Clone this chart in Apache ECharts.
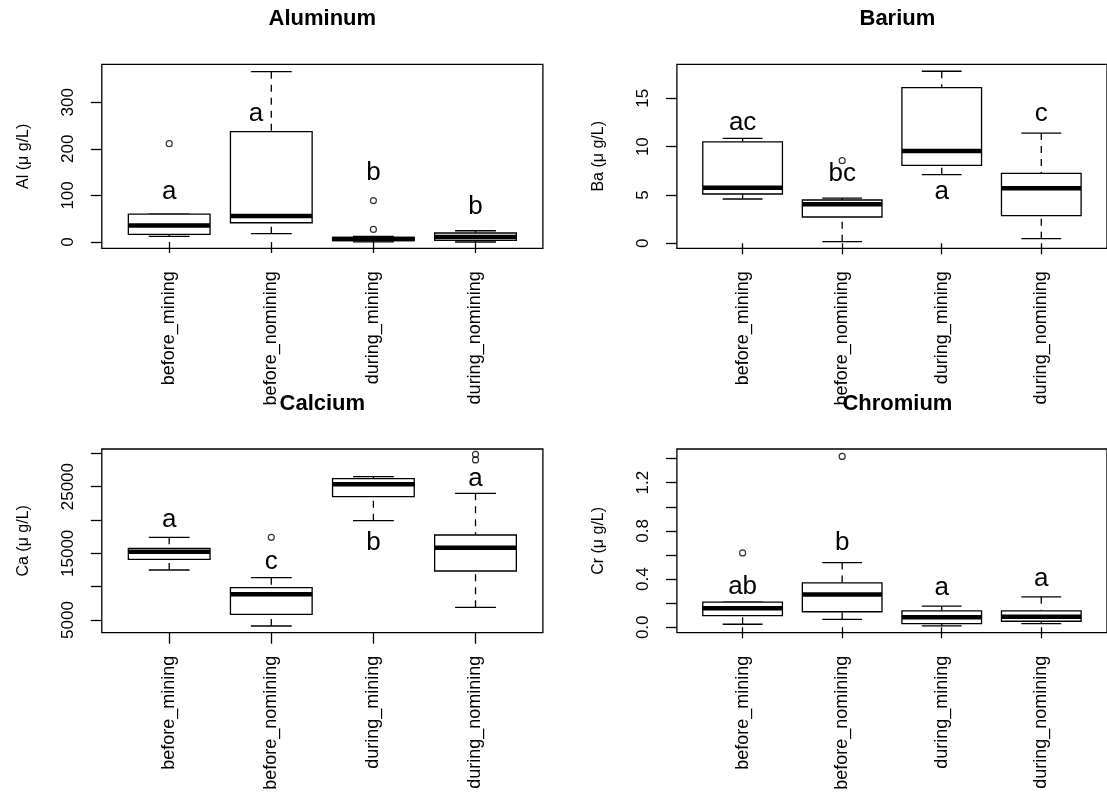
<!DOCTYPE html>
<html>
<head>
<meta charset="utf-8">
<script src="https://cdn.jsdelivr.net/npm/echarts@6/dist/echarts.min.js"></script>
<style>
  html, body { margin: 0; background: #fff; }
  #chart { width: 1107px; height: 793px; }
</style>
</head>
<body>
<div id="chart"></div>
<script>
const groups = ['before_mining', 'before_nomining', 'during_mining', 'during_nomining']

// per group: [lower whisker, Q1, median, Q3, upper whisker]
const alStats = [
  [12, 16.3, 35.6, 60, 60],
  [17.8, 41.4, 55.7, 237, 365.6],
  [0.3, 3, 6.5, 10, 12],
  [0, 3.4, 10.7, 19.3, 24.2]
]
const alOutliers = [[1, 211], [3, 89], [3, 27]]
const alLetters = ['a', 'a', 'b', 'b']
const alLetterX = [1, 1.85, 3, 4]
const alLetterY = [108, 275, 148, 76]

const baStats = [
  [4.58, 5.1, 5.75, 10.5, 10.86],
  [0.17, 2.72, 4.03, 4.48, 4.68],
  [7.1, 8.06, 9.55, 16.1, 17.8],
  [0.48, 2.86, 5.69, 7.24, 11.4]
]
const baOutliers = [[2, 8.55]]
const baLetters = ['ac', 'bc', 'a', 'c']
const baLetterX = [1, 2, 3, 4]
const baLetterY = [12.5, 7.2, 5.3, 13.4]

const caStats = [
  [12500, 14100, 15250, 15750, 17400],
  [4100, 5850, 8850, 9850, 11350],
  [19900, 23500, 25350, 26200, 26500],
  [6900, 12350, 15850, 17750, 24000]
]
const caOutliers = [[2, 17400], [4, 29850], [4, 29000]]
const caLetters = ['a', 'c', 'b', 'a']
const caLetterX = [1, 2, 3, 4]
const caLetterY = [20000, 13750, 16600, 26100]

const crStats = [
  [0.025, 0.096, 0.157, 0.209, 0.209],
  [0.066, 0.129, 0.273, 0.369, 0.537],
  [0.011, 0.03, 0.083, 0.137, 0.176],
  [0.03, 0.05, 0.088, 0.137, 0.253]
]
const crOutliers = [[1, 0.617], [2, 1.418]]
const crLetters = ['ab', 'b', 'a', 'a']
const crLetterX = [1, 2, 3, 4]
const crLetterY = [0.336, 0.70, 0.33, 0.405]

// axis ticks and the labels R kept
const alTicks = [0, 100, 200, 300]
const baTicks = [0, 5, 10, 15]
const caTicks = [5000, 10000, 15000, 20000, 25000, 30000]
const caTickLabels = [5000, 15000, 25000]
const crTicks = [0, 0.2, 0.4, 0.6, 0.8, 1.0, 1.2, 1.4]
const crTickLabels = [0, 0.4, 0.8, 1.2]

const FONT = 'Liberation Sans, Arial, Helvetica, sans-serif'

const panels = [
  { title: 'Aluminum', ylab: 'Al (μ g/L)', stats: alStats, out: alOutliers,
    letters: alLetters, letterX: alLetterX, letterY: alLetterY,
    min: -13.5, max: 381.5, ticks: alTicks, labels: alTicks, fmt: (v) => String(v) },
  { title: 'Barium', ylab: 'Ba (μ g/L)', stats: baStats, out: baOutliers,
    letters: baLetters, letterX: baLetterX, letterY: baLetterY,
    min: -0.52, max: 18.52, ticks: baTicks, labels: baTicks, fmt: (v) => String(v) },
  { title: 'Calcium', ylab: 'Ca (μ g/L)', stats: caStats, out: caOutliers,
    letters: caLetters, letterX: caLetterX, letterY: caLetterY,
    min: 3095, max: 30645, ticks: caTicks, labels: caTickLabels, fmt: (v) => String(v) },
  { title: 'Chromium', ylab: 'Cr (μ g/L)', stats: crStats, out: crOutliers,
    letters: crLetters, letterX: crLetterX, letterY: crLetterY,
    min: -0.045, max: 1.48, ticks: crTicks, labels: crTickLabels, fmt: (v) => v.toFixed(1) }
]

// plot frames (R's plot regions)
const frames = [
  { left: 101.8, top: 64.3, width: 441.1, height: 184 },
  { left: 676.9, top: 64.3, width: 441.1, height: 184 },
  { left: 101.8, top: 449, width: 441.1, height: 183.7 },
  { left: 676.9, top: 449, width: 441.1, height: 183.7 }
]

function renderBox(params, api) {
  const x = api.value(0)
  const lo = api.coord([x, api.value(1)])
  const q1 = api.coord([x, api.value(2)])
  const md = api.coord([x, api.value(3)])
  const q3 = api.coord([x, api.value(4)])
  const hi = api.coord([x, api.value(5)])
  const half = api.size([0.4, 0])[0]
  const cap = half / 2
  const cx = lo[0]
  const thin = { stroke: '#000', lineWidth: 1.3 }
  const dash = { stroke: '#000', lineWidth: 1.3, lineDash: [7, 6] }
  return {
    type: 'group',
    children: [
      { type: 'line', shape: { x1: cx, y1: hi[1], x2: cx, y2: q3[1] }, style: dash },
      { type: 'line', shape: { x1: cx, y1: lo[1], x2: cx, y2: q1[1] }, style: dash },
      { type: 'line', shape: { x1: cx - cap, y1: hi[1], x2: cx + cap, y2: hi[1] }, style: thin },
      { type: 'line', shape: { x1: cx - cap, y1: lo[1], x2: cx + cap, y2: lo[1] }, style: thin },
      { type: 'rect', shape: { x: cx - half, y: q3[1], width: half * 2, height: q1[1] - q3[1] },
        style: { fill: '#fff', stroke: '#000', lineWidth: 1.3 } },
      { type: 'line', shape: { x1: cx - half, y1: md[1], x2: cx + half, y2: md[1] },
        style: { stroke: '#000', lineWidth: 4.5 } }
    ]
  }
}

const option = {
  backgroundColor: '#fff',
  animation: false,
  grid: frames.map((f) => ({
    left: f.left, top: f.top, width: f.width, height: f.height,
    show: true, borderColor: '#000', borderWidth: 1.3, backgroundColor: 'transparent'
  })),
  xAxis: panels.map((p, i) => ({
    type: 'value', gridIndex: i, min: 0.34, max: 4.66,
    splitLine: { show: false },
    axisLine: { show: false },
    axisTick: { show: true, inside: false, length: 11, customValues: [1, 2, 3, 4],
      lineStyle: { color: '#000', width: 1.3 } },
    axisLabel: { show: true, customValues: [1, 2, 3, 4], rotate: 90, margin: 23,
      formatter: (v) => groups[Math.round(v) - 1], color: '#000', fontSize: 18, fontFamily: FONT }
  })),
  yAxis: panels.map((p, i) => ({
    type: 'value', gridIndex: i, min: p.min, max: p.max,
    name: p.ylab, nameLocation: 'middle', nameGap: 70,
    nameTextStyle: { color: '#000', fontSize: 16, fontFamily: FONT },
    splitLine: { show: false },
    axisLine: { show: false },
    axisTick: { show: true, inside: false, length: 11, customValues: p.ticks,
      lineStyle: { color: '#000', width: 1.3 } },
    axisLabel: { show: true, customValues: p.labels, rotate: 90, margin: 25,
      formatter: p.fmt, color: '#000', fontSize: 17, fontFamily: FONT }
  })),
  graphic: panels.map((p, i) => ({
    type: 'text',
    x: frames[i].left + 220.5,
    y: frames[i].top - 45,
    style: { text: p.title, fill: '#000', font: 'bold 22px ' + FONT, textAlign: 'center', textVerticalAlign: 'middle' }
  })),
  series: []
}

panels.forEach((p, i) => {
  option.series.push({
    type: 'custom', xAxisIndex: i, yAxisIndex: i, silent: true,
    renderItem: renderBox,
    data: p.stats.map((s, k) => [k + 1].concat(s))
  })
  option.series.push({
    type: 'scatter', xAxisIndex: i, yAxisIndex: i, silent: true,
    symbol: 'circle', symbolSize: 6,
    itemStyle: { color: 'transparent', borderColor: '#000', borderWidth: 1.2 },
    data: p.out
  })
  option.series.push({
    type: 'custom', xAxisIndex: i, yAxisIndex: i, silent: true, z: 5,
    renderItem: (params, api) => {
      const pt = api.coord([api.value(0), api.value(1)])
      return {
        type: 'text', x: pt[0], y: pt[1],
        style: { text: p.letters[params.dataIndex], fill: '#000', font: '26px ' + FONT,
          textAlign: 'center', textVerticalAlign: 'middle' }
      }
    },
    data: p.letterY.map((y, k) => [p.letterX[k], y])
  })
})

const chart = echarts.init(document.getElementById('chart'), null, { renderer: 'canvas' })
chart.setOption(option)
</script>
</body>
</html>
